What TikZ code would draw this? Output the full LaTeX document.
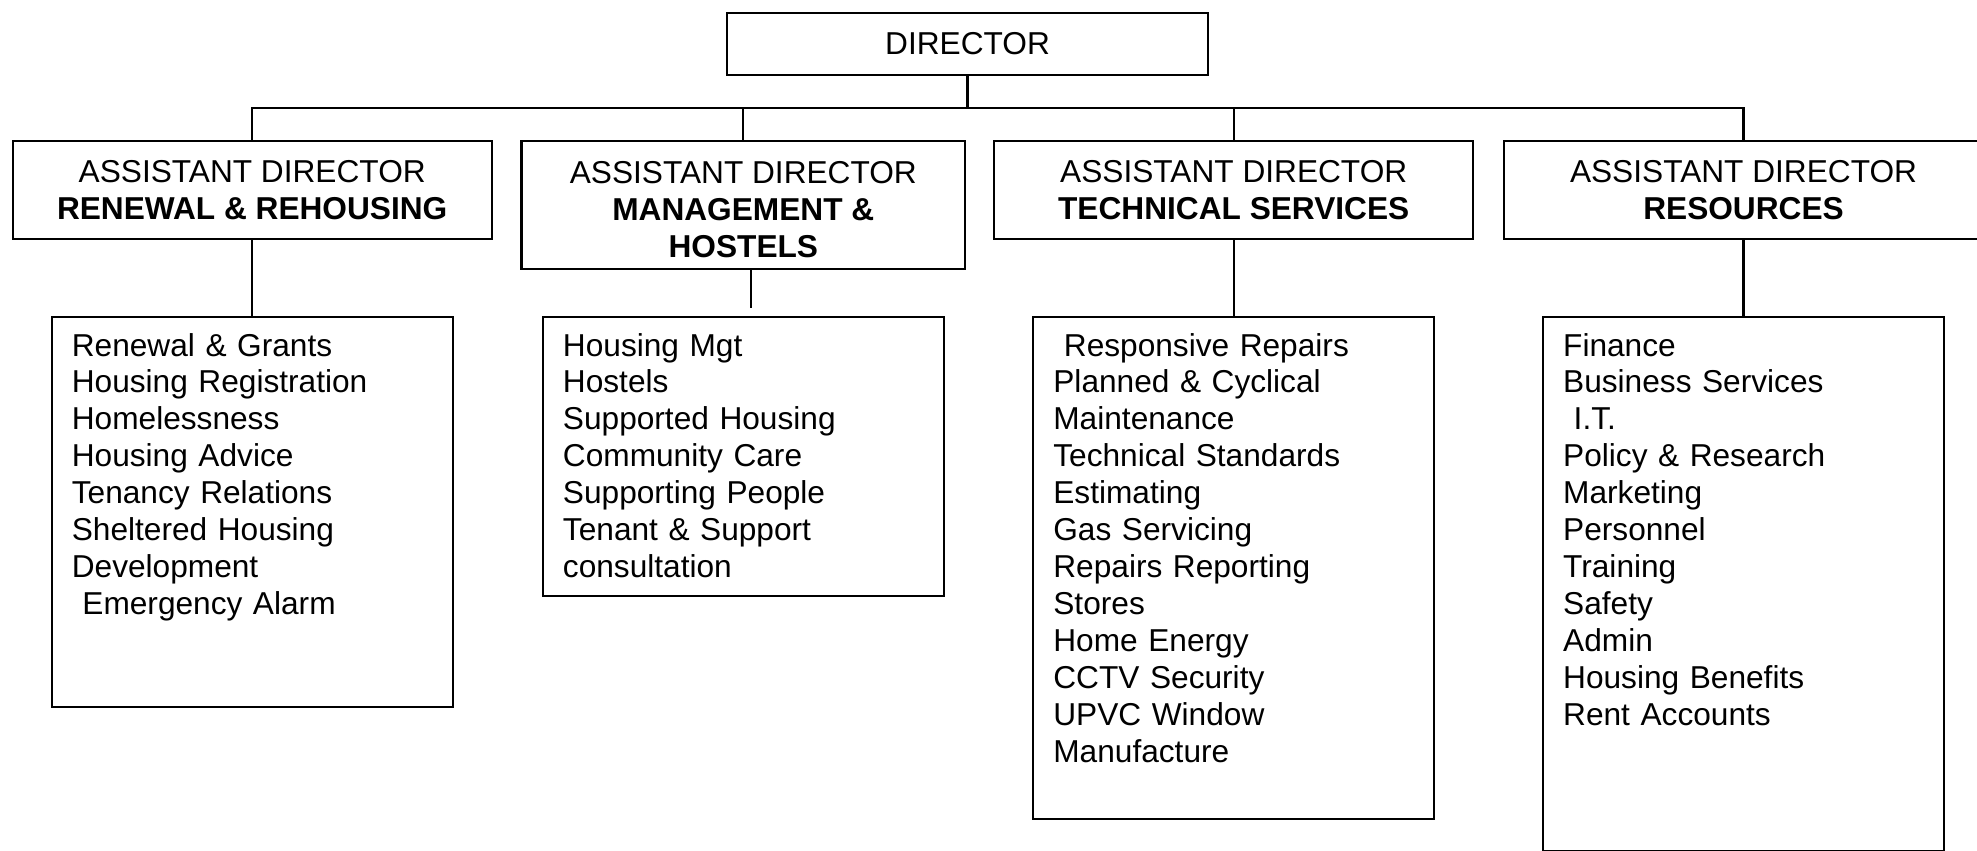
\documentclass[tikz,border=0pt]{standalone}
\usepackage{fontspec}
\setmainfont{Liberation Sans}
\usetikzlibrary{positioning}

\begin{document}
\begin{tikzpicture}[
  x=0.01cm, y=-0.01cm,
  line width=0.6pt,
  font=\fontsize{9pt}{10.5pt}\selectfont,
  hdbox/.style={rectangle, draw, align=center, inner sep=0pt, minimum width=4.79cm, minimum height=0.986cm},
  listbox/.style={rectangle, draw, align=left, text width=3.605cm, inner xsep=0.2cm, inner ysep=0.16cm, text height=0.23cm, text depth=#1}
]
\useasboundingbox (0,0) rectangle (1977,850);

\node[hdbox, minimum width=4.81cm, minimum height=0.62cm] (dir) at (967.5,43.7) {DIRECTOR};
\node[hdbox] (renew) at (252.2,190) {ASSISTANT DIRECTOR\\\textbf{RENEWAL \& REHOUSING}};
\node[hdbox, minimum width=4.433cm, minimum height=1.286cm] (mgt) at (743.3,205) {\rule{0pt}{0.31cm}ASSISTANT DIRECTOR\\\textbf{MANAGEMENT \&}\\\textbf{HOSTELS}};
\node[hdbox] (tech) at (1233.7,190) {ASSISTANT DIRECTOR\\\textbf{TECHNICAL SERVICES}};
\node[hdbox] (res) at (1743.5,190) {ASSISTANT DIRECTOR\\\textbf{RESOURCES}};

\node[listbox=3.35cm, below=0.755cm of renew] (renewlist) {Renewal \& Grants\\Housing Registration\\Homelessness\\Housing Advice\\Tenancy Relations\\Sheltered Housing\\Development\\~Emergency Alarm};
\node[listbox=2.24cm, below=0.455cm of mgt] (mgtlist) {Housing Mgt\\Hostels\\Supported Housing\\Community Care\\Supporting People\\Tenant \& Support\\consultation};
\node[listbox=4.466cm, below=0.755cm of tech] (techlist) {~Responsive Repairs\\Planned \& Cyclical\\Maintenance\\Technical Standards\\Estimating\\Gas Servicing\\Repairs Reporting\\Stores\\Home Energy\\CCTV Security\\UPVC Window\\Manufacture};
\node[listbox=4.79cm, below=0.755cm of res] (reslist) {Finance\\Business Services\\~I.T.\\Policy \& Research\\Marketing\\Personnel\\Training\\Safety\\Admin\\Housing Benefits\\Rent Accounts};

\coordinate (bus) at (0,107.7);
\coordinate (mgtend) at (750.7,307.7);
\draw (dir.south) -- (dir.south |- bus);
\draw (renew.north) -- (renew.north |- bus) -- (res.north |- bus) -- (res.north);
\draw (mgt.north) -- (mgt.north |- bus); \draw (tech.north) -- (tech.north |- bus);
\draw (renew.south) -- (renew.south |- renewlist.north); \draw (mgt.south -| mgtend) -- (mgtend);
\draw (tech.south) -- (tech.south |- techlist.north); \draw (res.south) -- (reslist.north);
\end{tikzpicture}
\end{document}
